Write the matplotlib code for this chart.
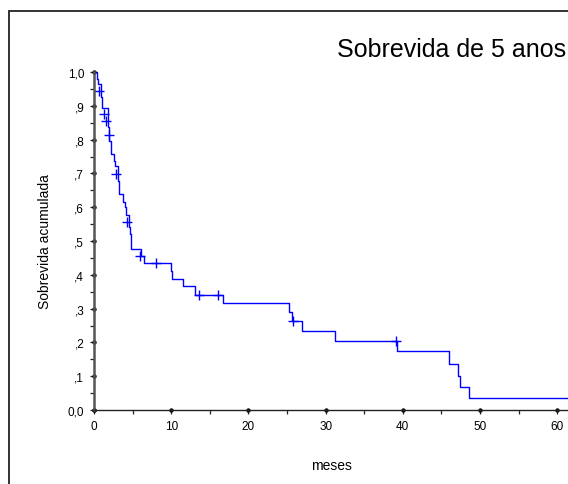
import matplotlib
matplotlib.use('Agg')
import matplotlib.pyplot as plt
import numpy as np
from matplotlib.patches import Rectangle
from matplotlib.ticker import MultipleLocator, FixedLocator

plt.rcParams['font.family'] = ['Liberation Sans', 'DejaVu Sans']

# Kaplan-Meier: tempos dos eventos (meses) e sobrevida acumulada após cada evento
event_times = [0, 0.35, 0.55, 0.95, 1.1, 1.75, 2.0, 2.15, 2.6, 2.75, 3.1, 3.25,
               3.8, 4.0, 4.2, 4.5, 4.7, 4.75, 4.8, 6.1, 6.5, 10.0, 10.05, 11.5,
               13.1, 16.7, 25.3, 25.6, 26.9, 31.2, 39.3, 46.0, 47.2, 47.4, 48.6]
event_surv = [1.0, 0.98, 0.964, 0.926, 0.893, 0.837, 0.797, 0.757, 0.738, 0.723,
              0.678, 0.639, 0.615, 0.60, 0.577, 0.541, 0.52, 0.50, 0.476, 0.456,
              0.435, 0.41, 0.388, 0.367, 0.34, 0.316, 0.29, 0.263, 0.234, 0.204,
              0.175, 0.136, 0.10, 0.068, 0.035]
followup_end = 62.0

# observações censuradas
censor_times = [0.65, 1.3, 1.5, 1.95, 2.85, 4.3, 6.0, 8.0, 13.6, 16.0, 25.8, 39.1]
censor_surv = [0.945, 0.876, 0.856, 0.814, 0.698, 0.557, 0.456, 0.435, 0.34, 0.34, 0.263, 0.204]

y_ticks = np.round(np.arange(0, 1.01, 0.1), 1)
y_labels = ['0,0', ',1', ',2', ',3', ',4', ',5', ',6', ',7', ',8', ',9', '1,0']
x_ticks = [0, 10, 20, 30, 40, 50, 60]

W, H = 568, 485
fig = plt.figure(figsize=(W / 100, H / 100), dpi=100)
ax = fig.add_axes([94 / W, (H - 411) / H, (W - 94) / W, (411 - 73) / H])

# moldura externa
fig.patches.append(Rectangle((9 / W, -0.1), 1.2, (H - 12) / H + 0.1,
                             transform=fig.transFigure, fill=False,
                             lw=1.3, ec='#222222'))

t = list(event_times) + [followup_end]
s = list(event_surv) + [event_surv[-1]]
ax.step(t, s, where='post', color='#0000ff', lw=1.0, clip_on=False)
ax.plot(censor_times, censor_surv, '+', color='#0000ff', ms=6.5, mew=1.0,
        clip_on=False, ls='none')

ax.set_xlim(0, 61.4)
ax.set_ylim(0, 1)

for side in ['top', 'right']:
    ax.spines[side].set_visible(False)
ax.spines['left'].set_color('#555555')
ax.spines['left'].set_linewidth(1.8)
ax.spines['bottom'].set_color('#222222')
ax.spines['bottom'].set_linewidth(1.0)

ax.set_yticks(y_ticks)
ax.set_yticklabels(y_labels)
ax.set_xticks(x_ticks)
ax.xaxis.set_minor_locator(FixedLocator([5, 15, 25, 35, 45, 55]))
ax.yaxis.set_minor_locator(MultipleLocator(0.05))
ax.tick_params(which='both', direction='out', length=3, width=0.9, color='#222222',
               labelsize=8.5, pad=4)

# pontos nas marcas principais
ax.plot(np.zeros(len(y_ticks)), y_ticks, 'o', color='#111111', ms=2.2, clip_on=False)
ax.plot(x_ticks, np.zeros(len(x_ticks)), 'o', color='#111111', ms=2.2, clip_on=False)

ax.set_xlabel('meses', fontsize=10, labelpad=19)
ax.set_ylabel('Sobrevida acumulada', fontsize=10, labelpad=11)

fig.text(566 / W, (H - 57) / H, 'Sobrevida de 5 anos', ha='right', va='baseline',
         fontsize=18)

plt.savefig('out.png', dpi=100)
